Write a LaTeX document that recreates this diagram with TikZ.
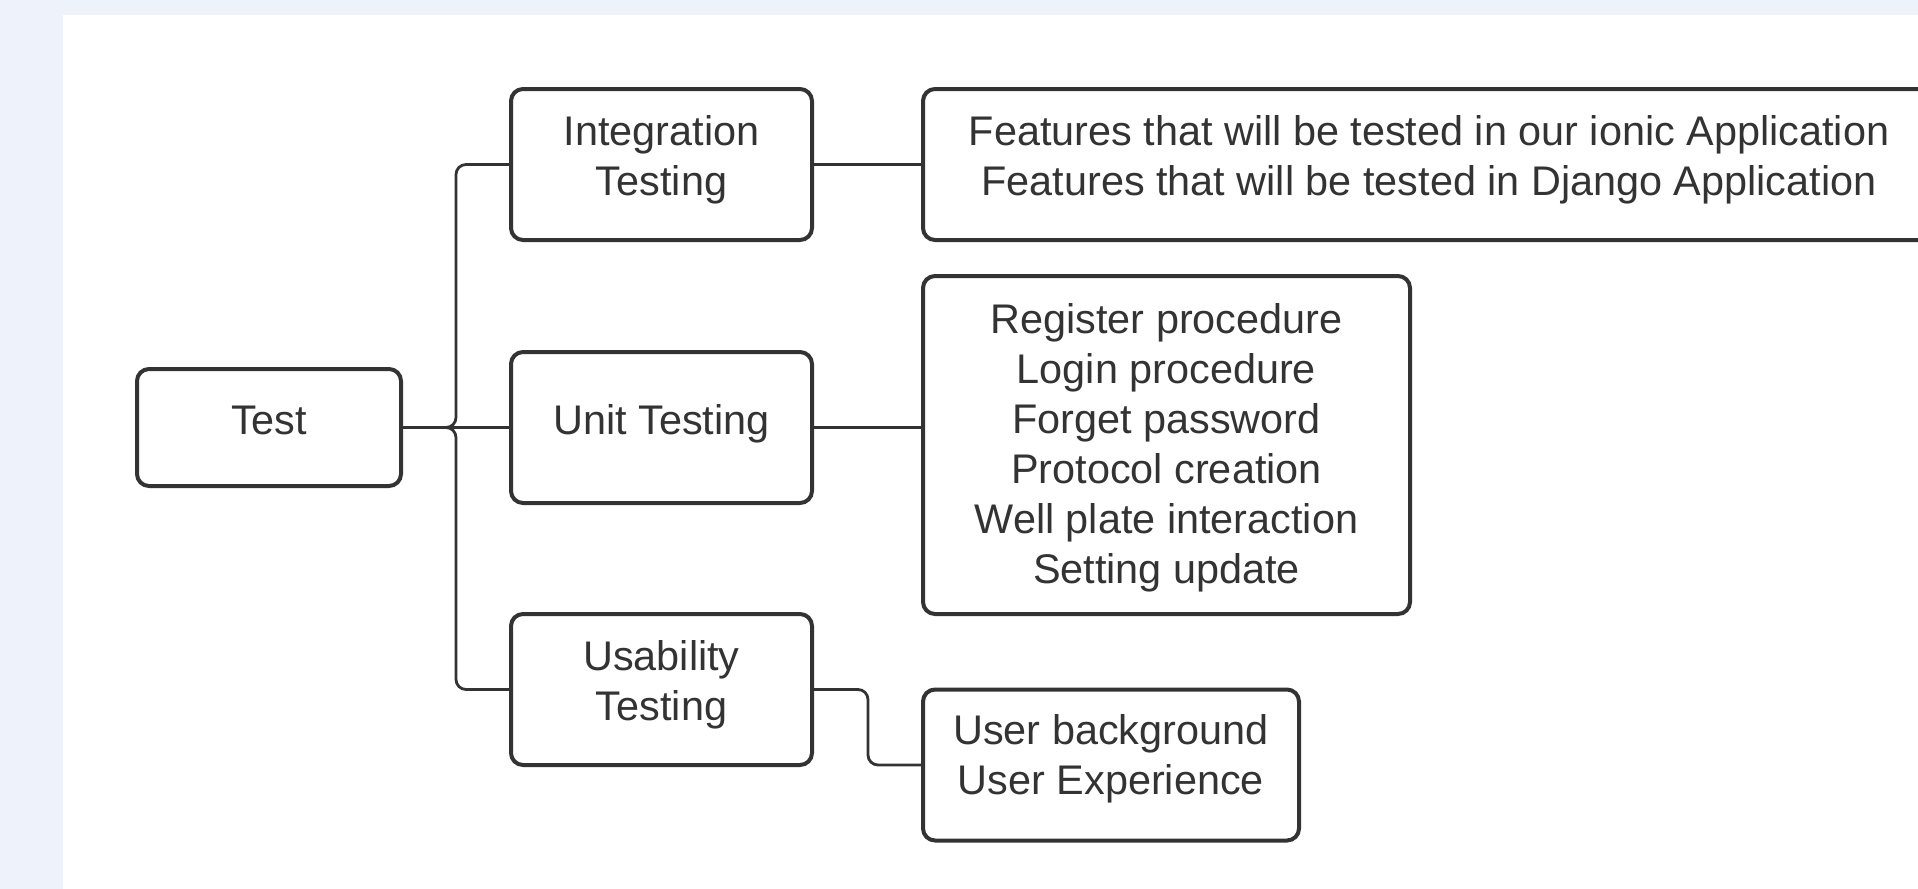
\documentclass[tikz,border=0pt]{standalone}
\usepackage{fontspec}
\setmainfont{Liberation Sans}
\usepackage{tikz}
\usetikzlibrary{positioning}
\definecolor{inkgray}{HTML}{333333}
\definecolor{pagebg}{HTML}{EDF2FB}

\begin{document}
\begin{tikzpicture}[
    font=\fontsize{20.7}{25}\selectfont,
    box/.style={
        rectangle, rounded corners=6pt, draw=inkgray, line width=2pt,
        text=inkgray, align=center, inner sep=0pt, outer sep=0pt,
        minimum height=75.5pt
    },
    lift/.style={
        execute at begin node=\strut,
        execute at end node={\rule[-#1]{0pt}{#1}}
    },
    lift/.default=11pt,
    branch/.style={box, minimum width=150.5pt},
    link/.style={draw=inkgray, line width=1.4pt, rounded corners=5pt},
]

% ── Page and white panel ──
\clip (0,0) rectangle (959pt,-444.5pt);
\fill[pagebg] (0,0) rectangle (959pt,-444.5pt);
\fill[white] (31.5pt,-7.5pt) rectangle (959pt,-444.5pt);

% ── Root and test kinds ──
\node[box, lift, minimum width=132pt, minimum height=58.5pt] (test) at (134.5pt,-213.75pt) {Test};
\node[branch, lift, right=55pt of test] (unit) {Unit Testing};
\node[branch, lift=8.6pt, above=56pt of unit] (integ) {Integration\\Testing};
\node[branch, lift=8.6pt, below=55.5pt of unit] (usab) {Usability\\Testing};

% ── What each kind covers ──
\node[box, lift=8.6pt, minimum width=506pt, right=55.5pt of integ] (feat)
    {Features that will be tested in our ionic Application\\Features that will be tested in Django Application};
\node[box, minimum width=243.5pt, minimum height=169pt, right=55.5pt of unit, yshift=-8.75pt] (procs)
    {\rule{0pt}{18pt}Register procedure\\Login procedure\\Forget password\\Protocol creation\\Well plate interaction\\Setting update};
\node[box, lift, minimum width=188pt, right=55.5pt of usab.east, anchor=north west] (uxp)
    {User background\\User Experience};

% ── Connectors ──
\draw[link] (test.east) -- ++(27.5pt,0) |- (integ.west);
\draw[link] (test.east) -- (unit.west);
\draw[link] (test.east) -- ++(27.5pt,0) |- (usab.west);
\draw[link] (integ.east) -- (feat.west);
\draw[link] (unit.east) -- (unit.east -| procs.west);
\draw[link] (usab.east) -- ++(28pt,0) |- (uxp.west);

\end{tikzpicture}
\end{document}
